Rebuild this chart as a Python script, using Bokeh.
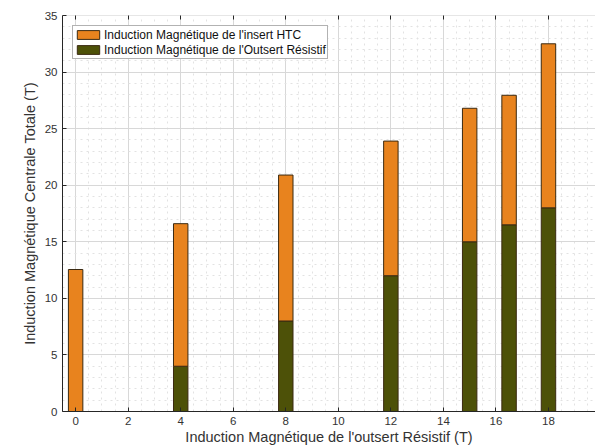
from bokeh.plotting import figure
from bokeh.models import (ColumnDataSource, Range1d, SingleIntervalTicker, LinearAxis,
                          Legend, LegendItem)
from bokeh.embed import file_html
from bokeh.resources import INLINE

# ---- data ----
x_pos = [0, 4, 8, 12, 15, 16.5, 18]
outsert = [0, 4, 8, 12, 15, 16.5, 18]
insert = [12.55, 12.6, 12.9, 11.9, 11.8, 11.45, 14.5]
series_names = ["Induction Magnétique de l'insert HTC",
                "Induction Magnétique de l'Outsert Résistif"]
x_label = "Induction Magnétique de l'outsert Résistif (T)"
y_label = "Induction Magnétique Centrale Totale (T)"

ORANGE = "#E8831E"
OLIVE = "#4D5108"
EDGE = "#3b2a12"
FONT = "Liberation Sans"
TXT = "#333333"

src = ColumnDataSource(dict(x=x_pos, outsert=outsert, insert=insert))

p = figure(width=595, height=447, output_backend="svg", toolbar_location=None,
           x_range=Range1d(-0.5, 19.79), y_range=Range1d(0, 35),
           min_border_left=62, min_border_right=0, min_border_top=15,
           min_border_bottom=36)
p.outline_line_color = None

r = p.vbar_stack(["outsert", "insert"], x="x", width=0.55, source=src,
                 fill_color=[OLIVE, ORANGE], line_color=EDGE, line_width=1)

p.xaxis.ticker = SingleIntervalTicker(interval=2, num_minor_ticks=4)
p.yaxis.ticker = SingleIntervalTicker(interval=5, num_minor_ticks=5)

for ax in (p.xaxis[0], p.yaxis[0]):
    ax.major_tick_in = 4
    ax.major_tick_out = 0
    ax.minor_tick_in = 0
    ax.minor_tick_out = 0
    ax.axis_line_color = "#262626"
    ax.major_tick_line_color = "#262626"
    ax.major_label_text_font = FONT
    ax.major_label_text_font_size = "11.5px"
    ax.major_label_text_color = TXT
    ax.axis_label_text_font = FONT
    ax.axis_label_text_font_style = "normal"
    ax.axis_label_text_color = TXT
    ax.major_label_standoff = 5

p.xaxis.axis_label = x_label
p.xaxis.axis_label_text_font_size = "14.5px"
p.xaxis.axis_label_standoff = 1
p.yaxis.axis_label = y_label
p.yaxis.axis_label_text_font_size = "14.5px"
p.yaxis.axis_label_standoff = 4
p.yaxis.major_label_standoff = 5

top = LinearAxis(ticker=SingleIntervalTicker(interval=2, num_minor_ticks=4))
top.major_tick_in = 4
top.major_tick_out = 0
top.minor_tick_in = 0
top.minor_tick_out = 0
top.axis_line_color = "#e6e6e6"
top.major_tick_line_color = "#262626"
top.major_label_overrides = {v: "" for v in range(-2, 24, 2)}
top.major_label_standoff = 0
p.add_layout(top, "above")

for g in (p.xgrid[0], p.ygrid[0]):
    g.grid_line_color = "#d8d8d8"
    g.grid_line_width = 1
    g.minor_grid_line_color = "#e2e2e2"
    g.minor_grid_line_dash = "dotted"

legend = Legend(items=[LegendItem(label=series_names[0], renderers=[r[1]]),
                       LegendItem(label=series_names[1], renderers=[r[0]])],
                location="top_left")
legend.margin = 10
legend.padding = 1
legend.spacing = 0
legend.glyph_width = 28
legend.glyph_height = 11
legend.label_height = 15
legend.label_standoff = 2
legend.label_text_font = FONT
legend.label_text_font_size = "12px"
legend.label_text_color = "#111111"
legend.border_line_color = "#666666"
legend.border_line_width = 1
legend.background_fill_color = "white"
legend.background_fill_alpha = 1
p.add_layout(legend, "center")

open("out.html", "w").write(file_html(p, INLINE))
